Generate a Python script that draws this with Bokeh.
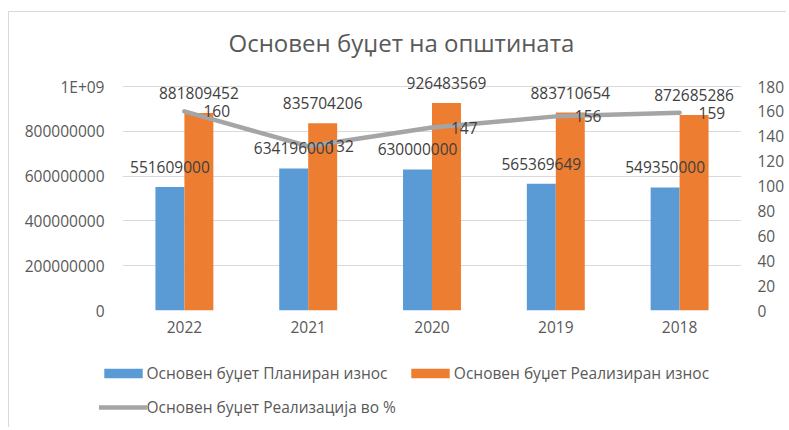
from bokeh.plotting import figure
from bokeh.models import (FactorRange, Range1d, LinearAxis, FixedTicker, Legend,
                          LegendItem, ColumnDataSource)
from bokeh.transform import dodge
from bokeh.core.properties import value
from bokeh.embed import file_html
from bokeh.resources import INLINE

# ---- data ----
years = ["2022", "2021", "2020", "2019", "2018"]
planned = [551609000, 634196000, 630000000, 565369649, 549350000]
realized = [881809452, 835704206, 926483569, 883710654, 872685286]
pct = [160, 132, 147, 156, 159]
left_ticks = [0, 200000000, 400000000, 600000000, 800000000, 1000000000]
left_tick_labels = ["0", "200000000", "400000000", "600000000", "800000000", "1E+09"]
right_ticks = [0, 20, 40, 60, 80, 100, 120, 140, 160, 180]
title_text = "Основен буџет на општината"
series_names = ["Основен буџет Планиран износ",
                "Основен буџет Реализиран износ",
                "Основен буџет Реализација во %"]

FONT = "Open Sans"
AXIS_TXT = "#595959"
LBL_TXT = "#404040"
BLUE = "#5B9BD5"
ORANGE = "#ED7D31"
GRAY = "#A5A5A5"
GRID = "#D9D9D9"
FS = "15.5px"

src = ColumnDataSource(dict(
    year=years, planned=planned, realized=realized, pct=pct,
    planned_lbl=[str(v) for v in planned],
    realized_lbl=[str(v) for v in realized],
    pct_lbl=[str(v) for v in pct],
))

W = 778
FRAME_H = 250
PX_PER_TOP = 224
p = figure(x_range=FactorRange(factors=years),
           y_range=Range1d(0, max(left_ticks) * FRAME_H / PX_PER_TOP),
           width=W, height=333, output_backend="svg", toolbar_location=None,
           min_border_left=113, min_border_right=45, min_border_top=48,
           min_border_bottom=35)
p.extra_y_ranges = {"pct": Range1d(0, max(right_ticks) * FRAME_H / PX_PER_TOP)}
p.outline_line_color = None
p.background_fill_color = "white"
p.border_fill_color = "white"
p.styles = {"margin-left": "8px", "margin-top": "11px",
            "border-left": "1px solid #D9D9D9", "border-top": "1px solid #D9D9D9"}

BW = 0.234
b1 = p.vbar(x=dodge("year", -BW / 2, range=p.x_range), top="planned", width=BW,
            source=src, fill_color=BLUE, line_color=None)
b2 = p.vbar(x=dodge("year", BW / 2, range=p.x_range), top="realized", width=BW,
            source=src, fill_color=ORANGE, line_color=None)
ln = p.line(x="year", y="pct", y_range_name="pct", source=src, line_color=GRAY,
            line_width=4.5, line_cap="round", line_join="round")

common = dict(text_font=value(FONT), text_font_size=FS, text_color=LBL_TXT, source=src)
p.text(x=dodge("year", -BW / 2, range=p.x_range), y="planned", text="planned_lbl",
       text_align="center", text_baseline="middle", y_offset=-20, **common)
p.text(x=dodge("year", BW / 2, range=p.x_range), y="realized", text="realized_lbl",
       text_align="center", text_baseline="middle", y_offset=-20, **common)
p.text(x="year", y="pct", y_range_name="pct", text="pct_lbl",
       text_align="left", text_baseline="middle", x_offset=19, **common)

# left axis
ya = p.yaxis[0]
ya.ticker = FixedTicker(ticks=left_ticks)
ya.major_label_overrides = dict(zip(left_ticks, left_tick_labels))
ya.axis_line_color = None
ya.major_tick_line_color = None
ya.minor_tick_line_color = None
ya.major_tick_out = 0
ya.major_tick_in = 0
ya.major_label_standoff = 18
ya.major_label_text_font = FONT
ya.major_label_text_font_size = FS
ya.major_label_text_color = AXIS_TXT
p.ygrid.ticker = FixedTicker(ticks=left_ticks)
p.ygrid.grid_line_color = GRID
p.xgrid.grid_line_color = None

# right axis
ra = LinearAxis(y_range_name="pct", ticker=FixedTicker(ticks=right_ticks))
ra.axis_line_color = None
ra.major_tick_line_color = None
ra.minor_tick_line_color = None
ra.major_tick_out = 0
ra.major_tick_in = 0
ra.major_label_standoff = 16
ra.major_label_text_font = FONT
ra.major_label_text_font_size = FS
ra.major_label_text_color = AXIS_TXT
p.add_layout(ra, "right")

# x axis
xa = p.xaxis[0]
xa.axis_line_color = None
xa.major_tick_line_color = None
xa.minor_tick_line_color = None
xa.major_tick_out = 0
xa.major_tick_in = 0
xa.major_label_standoff = 10
xa.major_label_text_font = FONT
xa.major_label_text_font_size = FS
xa.major_label_text_color = AXIS_TXT

# title
p.title.text = title_text
p.title.align = "left"
p.title.offset = 106
p.title.text_font = FONT
p.title.text_font_size = "24px"
p.title.text_font_style = "normal"
p.title.text_color = AXIS_TXT
p.title.standoff = 3

# ---- legend strip: a second root, so the legend is not clipped by the chart frame ----
LH = 83
lf = figure(width=W, height=LH, output_backend="svg", toolbar_location=None,
            x_range=FactorRange(factors=years), y_range=Range1d(0, 1),
            x_axis_location=None, y_axis_location=None, min_border=0)
lf.outline_line_color = None
lf.grid.grid_line_color = None
lf.border_fill_color = "white"
lf.styles = {"margin-left": "8px", "border-left": "1px solid #D9D9D9"}
# hidden stand-ins (same series) that only supply the legend swatches
d1 = lf.vbar(x="year", top="planned", width=BW, source=src, fill_color=BLUE,
             line_color=None, visible=False)
d2 = lf.vbar(x="year", top="realized", width=BW, source=src, fill_color=ORANGE,
             line_color=None, visible=False)
d3 = lf.line(x="year", y="pct", source=src, line_color=GRAY, line_width=4.5,
             line_cap="round", visible=False)

legend = Legend(items=[LegendItem(label=series_names[0], renderers=[d1]),
                       LegendItem(label=series_names[1], renderers=[d2]),
                       LegendItem(label=series_names[2], renderers=[d3])],
                location=(89.5, 8), orientation="horizontal", ncols=2,
                glyph_width=48, glyph_height=12, label_standoff=0, label_height=24,
                spacing=10, padding=0, margin=0, border_line_color=None,
                background_fill_alpha=0, inactive_fill_alpha=0,
                label_text_font=FONT, label_text_font_size=FS,
                label_text_color=AXIS_TXT)
lf.add_layout(legend, "center")

open("out.html", "w").write(file_html([p, lf], INLINE))
